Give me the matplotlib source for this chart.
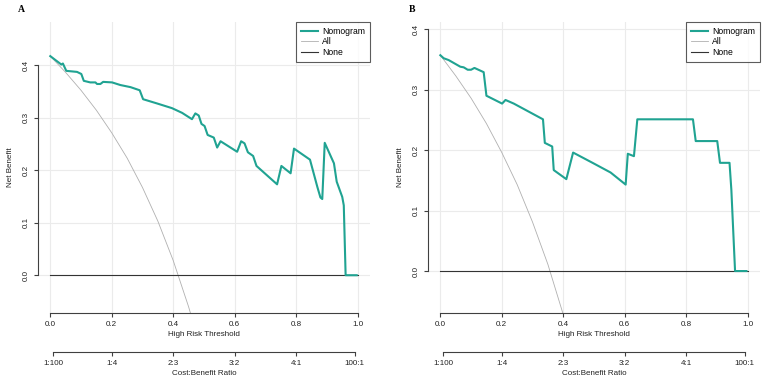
import numpy as np
import matplotlib.pyplot as plt

plt.rcParams['font.family'] = ['Liberation Sans', 'DejaVu Sans']

# panel A, nomogram net benefit
thr_a = [0.0, 0.027, 0.036, 0.041, 0.052, 0.087, 0.101, 0.109, 0.130, 0.147, 0.152,
         0.163, 0.172, 0.201, 0.228, 0.261, 0.291, 0.302, 0.347, 0.396, 0.429, 0.461,
         0.472, 0.483, 0.492, 0.502, 0.512, 0.532, 0.543, 0.554, 0.608, 0.621, 0.632,
         0.643, 0.660, 0.671, 0.738, 0.752, 0.782, 0.793, 0.845, 0.869, 0.879, 0.885,
         0.893, 0.923, 0.932, 0.950, 0.955, 0.961, 0.997]
nb_a = [0.417, 0.405, 0.401, 0.403, 0.389, 0.387, 0.383, 0.370, 0.367, 0.367, 0.364,
        0.364, 0.368, 0.367, 0.362, 0.358, 0.352, 0.335, 0.327, 0.318, 0.309, 0.297,
        0.308, 0.304, 0.288, 0.284, 0.267, 0.262, 0.243, 0.255, 0.235, 0.255, 0.251,
        0.234, 0.227, 0.208, 0.173, 0.208, 0.194, 0.241, 0.220, 0.168, 0.148, 0.145,
        0.252, 0.213, 0.178, 0.149, 0.133, 0.0, 0.0]

# panel A, treat-all curve
all_thr_a = [0.0, 0.05, 0.1, 0.15, 0.2, 0.25, 0.3, 0.35, 0.4, 0.45, 0.47]
all_nb_a = [0.417, 0.386, 0.352, 0.314, 0.271, 0.223, 0.167, 0.103, 0.028, -0.060, -0.100]

# panel B
thr_b = [0.0, 0.011, 0.027, 0.065, 0.076, 0.089, 0.100, 0.111, 0.141, 0.150, 0.201,
         0.212, 0.239, 0.334, 0.340, 0.364, 0.369, 0.410, 0.432, 0.499, 0.554, 0.603,
         0.610, 0.630, 0.641, 0.822, 0.831, 0.901, 0.910, 0.941, 0.947, 0.959, 0.996]
nb_b = [0.357, 0.352, 0.349, 0.338, 0.337, 0.333, 0.333, 0.336, 0.329, 0.290, 0.277,
        0.283, 0.277, 0.251, 0.212, 0.206, 0.167, 0.152, 0.196, 0.178, 0.163, 0.143,
        0.194, 0.190, 0.251, 0.251, 0.215, 0.215, 0.179, 0.179, 0.134, 0.0, 0.0]

all_thr_b = [0.0, 0.05, 0.1, 0.15, 0.2, 0.25, 0.3, 0.35, 0.4, 0.42]
all_nb_b = [0.357, 0.323, 0.286, 0.244, 0.196, 0.143, 0.081, 0.011, -0.072, -0.109]

x_ticks = [0.0, 0.2, 0.4, 0.6, 0.8, 1.0]
y_ticks = [0.0, 0.1, 0.2, 0.3, 0.4]
cb_pos = [1 / 101, 0.2, 0.4, 0.6, 0.8, 100 / 101]
cb_labels = ['1:100', '1:4', '2:3', '3:2', '4:1', '100:1']

teal = '#20a392'
axcol = '#404040'
txtcol = '#222222'
fs = 5.8

fig = plt.figure(figsize=(7.63, 3.79), dpi=100)

panels = [
    ('A', [0.0498, 0.174, 0.435, 0.768], thr_a, nb_a, all_thr_a, all_nb_a, (-0.072, 0.482), 21),
    ('B', [0.561, 0.174, 0.435, 0.768], thr_b, nb_b, all_thr_b, all_nb_b, (-0.0695, 0.412), 412),
]

for name, rect, tx, ty, ax_, ay_, ylim, lx in panels:
    ax = fig.add_axes(rect)
    ax.set_xlim(-0.04, 1.04)
    ax.set_ylim(*ylim)

    # grid
    for v in x_ticks:
        ax.axvline(v, color='#ebebeb', lw=0.8, zorder=0)
    for v in y_ticks:
        ax.axhline(v, color='#ebebeb', lw=0.8, zorder=0)

    ax.plot(tx, ty, color=teal, lw=1.5, label='Nomogram', zorder=3)
    ax.plot(ax_, ay_, color='#b0b0b0', lw=0.6, label='All', zorder=2)
    ax.plot([0, 1], [0, 0], color='#333333', lw=0.8, label='None', zorder=2)

    for s in ['top', 'right']:
        ax.spines[s].set_visible(False)
    ax.spines['left'].set_bounds(0, 0.4)
    ax.spines['bottom'].set_bounds(0, 1)
    for s in ['left', 'bottom']:
        ax.spines[s].set_color(axcol)
        ax.spines[s].set_linewidth(0.8)

    ax.set_xticks(x_ticks)
    ax.set_xticklabels(['%.1f' % v for v in x_ticks])
    ax.set_yticks(y_ticks)
    ax.set_yticklabels(['%.1f' % v for v in y_ticks], rotation=90, va='center')
    ax.tick_params(axis='both', length=3, width=0.8, color=axcol, labelsize=fs,
                   labelcolor=txtcol, pad=3)
    ax.set_xlabel('High Risk Threshold', fontsize=fs, labelpad=2, color=txtcol)
    ax.set_ylabel('Net Benefit', fontsize=fs, labelpad=6, color=txtcol)

    # cost:benefit axis
    sec = ax.secondary_xaxis(-0.134)
    sec.set_xticks(cb_pos)
    sec.set_xticklabels(cb_labels)
    sec.spines['bottom'].set_bounds(cb_pos[0], cb_pos[-1])
    sec.spines['bottom'].set_color(axcol)
    sec.spines['bottom'].set_linewidth(0.8)
    sec.tick_params(length=3, width=0.8, color=axcol, labelsize=fs,
                    labelcolor=txtcol, pad=3)
    sec.set_xlabel('Cost:Benefit Ratio', fontsize=fs, labelpad=2, color=txtcol)

    leg = ax.legend(loc='upper right', bbox_to_anchor=(1.0, 1.0), fontsize=6.2,
                    frameon=True, fancybox=False, handlelength=2.0,
                    handletextpad=0.5, borderpad=0.55, labelspacing=0.2,
                    borderaxespad=0.0)
    leg.get_frame().set_edgecolor('#333333')
    leg.get_frame().set_linewidth(0.8)

    fig.text(lx / 763, 1 - 10 / 379, name, fontsize=7, fontweight='bold',
             family='Liberation Serif', ha='center', va='center')

fig.savefig('out.png', dpi=100)
